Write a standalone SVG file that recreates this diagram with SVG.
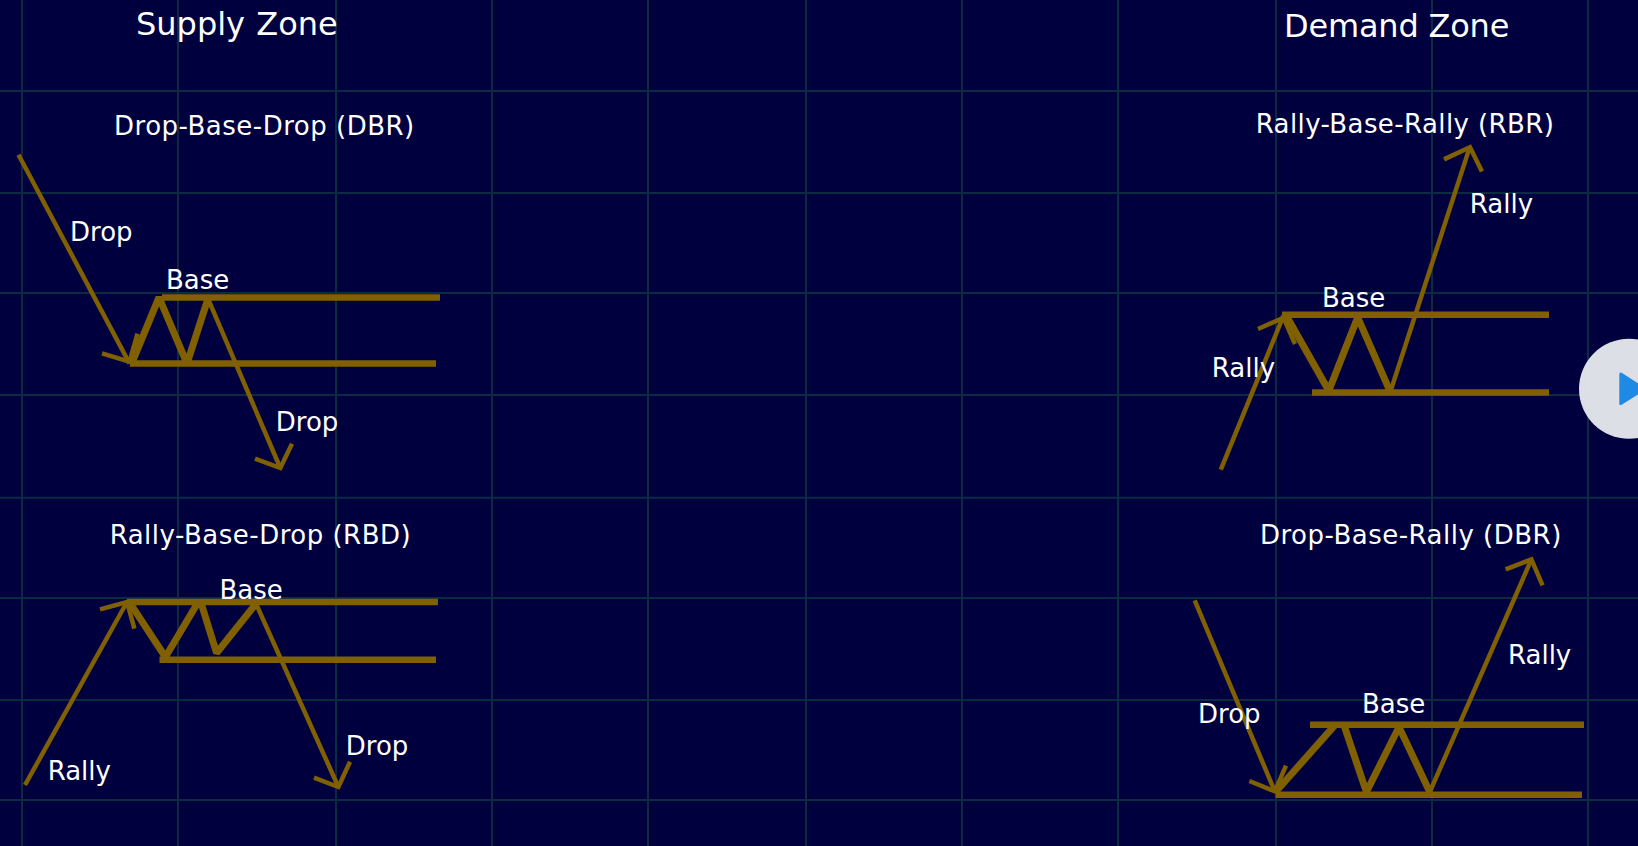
<svg xmlns="http://www.w3.org/2000/svg" width="1638" height="846" viewBox="0 0 1638 846">
<style>
.grid line{stroke:#0b2b40;stroke-width:2}
.thin{fill:none;stroke:#806000;stroke-width:4.5}
.thick{fill:none;stroke:#806000;stroke-width:6.5}
.zig{fill:none;stroke:#806000;stroke-width:7;stroke-linejoin:bevel}
text{font-family:"DejaVu Sans",sans-serif;fill:#fff}
.t{font-size:32px}
.s{font-size:26px;letter-spacing:.5px}
.l{font-size:26px}
</style>
<rect width="1638" height="846" fill="#00003f"/>
<g class="grid" id="grid">
<line x1="22" y1="0" x2="22" y2="846"/><line x1="178" y1="0" x2="178" y2="846"/><line x1="336" y1="0" x2="336" y2="846"/><line x1="492" y1="0" x2="492" y2="846"/><line x1="648" y1="0" x2="648" y2="846"/><line x1="806" y1="0" x2="806" y2="846"/><line x1="962" y1="0" x2="962" y2="846"/><line x1="1118" y1="0" x2="1118" y2="846"/><line x1="1276" y1="0" x2="1276" y2="846"/><line x1="1432" y1="0" x2="1432" y2="846"/><line x1="1588" y1="0" x2="1588" y2="846"/>
<line x1="0" y1="91" x2="1638" y2="91"/><line x1="0" y1="193" x2="1638" y2="193"/><line x1="0" y1="293" x2="1638" y2="293"/><line x1="0" y1="395" x2="1638" y2="395"/><line x1="0" y1="497.7" x2="1638" y2="497.7"/><line x1="0" y1="598" x2="1638" y2="598"/><line x1="0" y1="700" x2="1638" y2="700"/><line x1="0" y1="800" x2="1638" y2="800"/>
</g>
<g id="connectors" transform="translate(0 0.7)">
<polyline class="thin" points="18.5,154 129.5,362.7"/>
<polyline class="thin" points="102,352.7 129.5,361 137.5,333"/>
<polyline class="zig" points="131.6,363 159,296.7 187,363 208,298"/>
<polyline class="thin" points="208,298 280.3,467.3"/>
<polyline class="thin" points="255,458 280.3,467.3 292,443"/>
<line class="thick" x1="162" y1="296.7" x2="440" y2="296.7"/>
<line class="thick" x1="130" y1="362.7" x2="436" y2="362.7"/>

<polyline class="thin" points="25,784.3 127,601.3"/>
<polyline class="thin" points="100,608.7 127,601.3 134.4,628"/>
<line class="thick" x1="127" y1="601.3" x2="438" y2="601.3"/>
<line class="thick" x1="159.5" y1="659" x2="436" y2="659"/>
<polyline class="zig" points="129,601 165.4,656.3 197.8,602"/>
<polyline class="zig" points="201,602 216.6,652.3 256,603"/>
<polyline class="thin" points="256,603 338.4,786.3"/>
<polyline class="thin" points="314,777 338.4,786.3 350,761"/>

<polyline class="thin" points="1220.8,469 1283.5,315"/>
<polyline class="thin" points="1258,328.3 1283.5,317 1295,343.3"/>
<line class="thick" x1="1282" y1="314" x2="1549" y2="314"/>
<line class="thick" x1="1312" y1="391.7" x2="1549" y2="391.7"/>
<polyline class="zig" points="1286.3,315 1328.8,390 1357.7,316.7 1389.7,390"/>
<polyline class="thin" points="1390.7,390 1470,145.7"/>
<polyline class="thin" points="1444,158.7 1470,146.5 1482,170.7"/>

<polyline class="thin" points="1194.7,599.7 1274.8,790.7"/>
<polyline class="thin" points="1249.4,780.3 1274.8,790.7 1286,765"/>
<line class="thick" x1="1275.5" y1="794" x2="1582" y2="794"/>
<line class="thick" x1="1310" y1="724" x2="1584" y2="724"/>
<polyline class="zig" points="1275.5,791.3 1334.7,724.7"/>
<polyline class="zig" points="1344.4,725.7 1366.4,791.3 1399,726.3 1429.8,791.3"/>
<polyline class="thin" points="1429.8,791.3 1531.4,558.7"/>
<polyline class="thin" points="1505.6,568.7 1531.4,558.7 1542.6,584.7"/>
</g>
<g id="supply-labels">
<text class="t" x="136" y="35" word-spacing="1">Supply Zone</text>
<text class="s" x="114" y="134.5">Drop-Base-Drop (DBR)</text>
<text class="l" x="70" y="241.2">Drop</text>
<text class="l" x="166" y="288.5">Base</text>
<text class="l" x="275.8" y="431">Drop</text>
<text class="s" x="109.7" y="543.8" letter-spacing="0.45">Rally-Base-Drop (RBD)</text>
<text class="l" x="219.5" y="598.7">Base</text>
<text class="l" x="345.8" y="755.3">Drop</text>
<text class="l" x="47.7" y="779.7">Rally</text>
</g>
<g id="demand-labels">
<text class="t" x="1284" y="37.3" letter-spacing="-0.2">Demand Zone</text>
<text class="s" x="1255.7" y="133" style="letter-spacing:.4px">Rally-Base-Rally (RBR)</text>
<text class="l" x="1469.8" y="213">Rally</text>
<text class="l" x="1322" y="306.5">Base</text>
<text class="l" x="1211.8" y="377.3">Rally</text>
<text class="s" x="1259.9" y="543.8">Drop-Base-Rally (DBR)</text>
<text class="l" x="1508" y="663.6">Rally</text>
<text class="l" x="1361.9" y="713.3">Base</text>
<text class="l" x="1198" y="723.3">Drop</text>
</g>
<g id="play-button">
<circle cx="1629" cy="388.8" r="50" fill="#e4e6eb" fill-opacity="0.97"/>
<path d="M1620.8 374 L1644 388.8 L1620.8 403.6 Z" fill="#1f8ae6" stroke="#1f8ae6" stroke-width="3" stroke-linejoin="round"/>
</g>
</svg>
